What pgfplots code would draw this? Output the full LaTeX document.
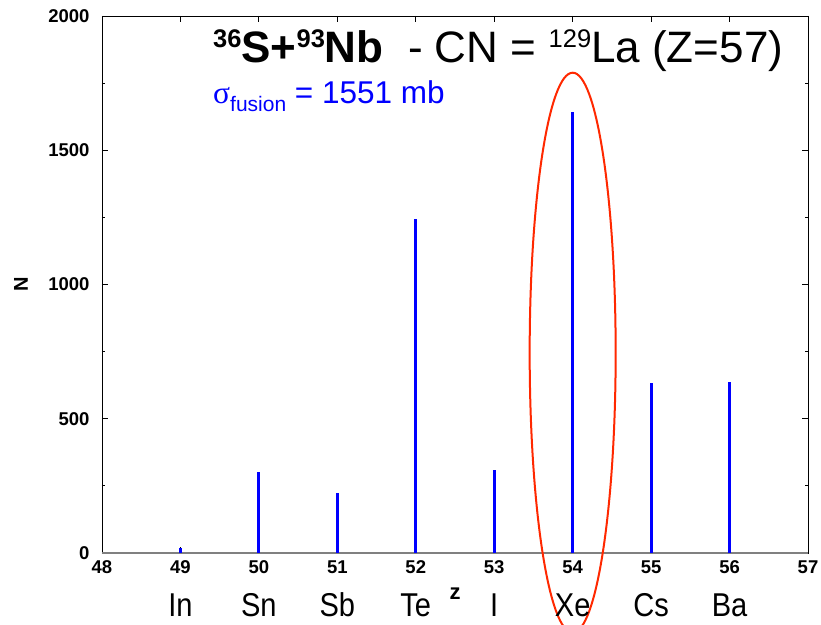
\documentclass[border=0pt]{standalone}
\usepackage{fontspec}
\setmainfont{Liberation Sans}
\newfontfamily\narrowfont[FakeStretch=0.88]{Liberation Sans}
\newfontfamily\greekfont{Liberation Serif}
\usepackage{pgfplots}
\pgfplotsset{compat=1.18}
\definecolor{ellred}{RGB}{255,40,0}
\definecolor{barblue}{RGB}{0,0,255}
\definecolor{basegray}{RGB}{128,128,128}
\newcommand{\sups}[1]{\raisebox{15.5pt}{\fontsize{25.5}{25.5}\selectfont #1}}

\begin{document}
\begin{tikzpicture}
\begin{axis}[
  scale only axis, width=706pt, height=537pt,
  xmin=48, xmax=57, ymin=0, ymax=2000,
  xtick={48,...,57}, ytick={0,500,...,2000}, minor y tick num=1,
  tick align=inside, major tick length=6pt, minor tick length=3pt,
  tick style={black, line width=0.8pt},
  axis line style={black, line width=0.8pt},
  ticklabel style={font=\bfseries\fontsize{18.5}{18.5}\selectfont},
  yticklabel style={xshift=-9pt},
  xticklabel style={yshift=-4pt},
  /pgf/number format/assume math mode=true,
  /pgf/number format/1000 sep={},
  clip=false,
]
\draw[basegray, line width=1.6pt] (axis cs:48,0) -- (axis cs:57,0);
\addplot[ycomb, no marks, barblue, line width=3pt] coordinates {
  (49,18) (50,301) (51,223) (52,1243) (53,310) (54,1644) (55,633) (56,637)
};
\draw[ellred, line width=2pt] (axis cs:54,746) ellipse [x radius=43pt, y radius=280pt];
\coordinate (ll) at (rel axis cs:0,0);
\foreach \z/\el in {49/In,50/Sn,51/Sb,52/Te,53/I,54/Xe,55/Cs,56/Ba}{
  \edef\tmp{\noexpand\node[anchor=base, font=\noexpand\narrowfont\noexpand\fontsize{33}{33}\noexpand\selectfont, inner sep=0pt]
    at ([yshift=-63pt]axis cs:\z,0) {\el};}
  \tmp
}
\node[anchor=base, font=\bfseries\fontsize{22}{22}\selectfont, inner sep=0pt] at ([yshift=-46pt]axis cs:52.5,0) {z};
\node[anchor=base, rotate=90, font=\bfseries\fontsize{20}{20}\selectfont, inner sep=0pt] at ([xshift=-74pt]rel axis cs:0,0.5) {N};
\end{axis}
\node[anchor=base west, inner sep=0pt, font=\fontsize{44}{44}\selectfont] at ([shift={(111pt,490pt)}]ll)
  {{\bfseries\sups{36}S+\sups{93}Nb}\ \ - CN = \sups{129}La (Z=57)};
\node[anchor=base west, inner sep=0pt, text=barblue, font=\fontsize{31.5}{31.5}\selectfont] at ([shift={(111pt,449pt)}]ll)
  {{\greekfont σ}\raisebox{-8pt}{\fontsize{21}{21}\selectfont fusion} = 1551 mb};
\pgfresetboundingbox
\useasboundingbox ([shift={(-102pt,-71pt)}]ll) rectangle ([shift={(719pt,553pt)}]ll);
\end{tikzpicture}
\end{document}
